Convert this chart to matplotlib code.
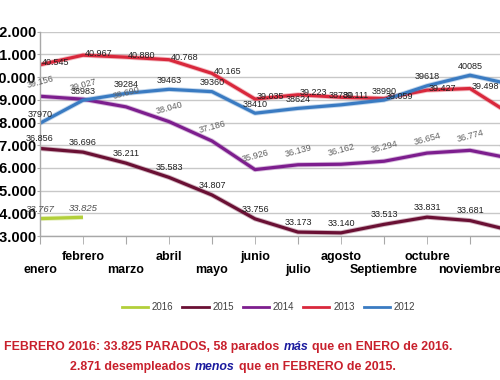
import matplotlib
matplotlib.use('Agg')
import matplotlib.pyplot as plt
import matplotlib.patheffects as pe
from matplotlib.lines import Line2D
from matplotlib.offsetbox import TextArea, HPacker, AnchoredOffsetbox

months = ['enero', 'febrero', 'marzo', 'abril', 'mayo', 'junio', 'julio',
          'agosto', 'Septiembre', 'octubre', 'noviembre']
years = ['2016', '2015', '2014', '2013', '2012']
v2016 = [33767, 33825]
v2015 = [36856, 36696, 36211, 35583, 34807, 33756, 33173, 33140, 33513, 33831, 33681, 33220]
v2014 = [39156, 39027, 38690, 38040, 37186, 35926, 36139, 36162, 36294, 36654, 36774, 36400]
v2013 = [40545, 40967, 40880, 40768, 40165, 39035, 39223, 39111, 39059, 39427, 39498, 38300]
v2012 = [37970, 38983, 39284, 39463, 39360, 38410, 38624, 38780, 38990, 39618, 40085, 39660]
y_ticks = list(range(33000, 43000, 1000))

line1 = ['FEBRERO 2016: 33.825 PARADOS, 58 parados', 'más', 'que en ENERO de 2016.']
line2 = ['2.871 desempleados', 'menos', 'que en FEBRERO de 2015.']

colors = {'2016': '#b2cf3a', '2015': '#6a1034', '2014': '#7d1e8e',
          '2013': '#d9283c', '2012': '#3a7bc2'}
series = {'2016': v2016, '2015': v2015, '2014': v2014, '2013': v2013, '2012': v2012}

def dotfmt(v):
    return f"{v:,}".replace(',', '.')

fig = plt.figure(figsize=(5, 3.8), dpi=100)
fig.patch.set_facecolor('white')
ax = fig.add_axes([0.08, 0.3789, 0.946, 0.5376])
ax.set_xlim(0, 11)
ax.set_ylim(33000, 42000)

for y in years:
    vals = series[y]
    xs = list(range(len(vals)))
    ax.plot(xs, vals, color=colors[y], lw=2.3, solid_capstyle='butt',
            solid_joinstyle='round',
            path_effects=[pe.Stroke(linewidth=3.6, foreground=colors[y], alpha=0.3),
                          pe.Normal()])

lblfont = ['Liberation Sans', 'DejaVu Sans']
narrow = ['Liberation Sans Narrow', 'Liberation Sans', 'DejaVu Sans']
for i, v in enumerate(v2016):
    ax.annotate(dotfmt(v), (i, v), xytext=(0, 6.5), textcoords='offset points',
                ha='center', va='center', fontsize=6.8, style='italic',
                color='#505050', family=lblfont)
for i, v in enumerate(v2015):
    ax.annotate(dotfmt(v), (i, v), xytext=(0, 7), textcoords='offset points',
                ha='center', va='center', fontsize=6.5, color='#202020', family=lblfont)
for i, v in enumerate(v2014):
    ax.annotate(dotfmt(v), (i, v), xytext=(0, 10), textcoords='offset points',
                ha='center', va='center', fontsize=6.5, color='#606060',
                rotation=15, family=lblfont)
for i, v in enumerate(v2013):
    ax.annotate(dotfmt(v), (i, v), xytext=(1, 1.5), textcoords='offset points',
                ha='left', va='center', fontsize=6.5, color='#202020', family=lblfont)
for i, v in enumerate(v2012):
    ax.annotate(str(v), (i, v), xytext=(0, 6.5), textcoords='offset points',
                ha='center', va='center', fontsize=6.5, color='#202020', family=narrow)

# axes styling
for s in ['top', 'right']:
    ax.spines[s].set_visible(False)
for s in ['left', 'bottom']:
    ax.spines[s].set_color('#a8a8a8')
    ax.spines[s].set_linewidth(1)
ax.yaxis.grid(True, color='#c8c8c8', lw=1)
ax.set_axisbelow(True)

ax.set_yticks(y_ticks)
ax.set_yticklabels([dotfmt(v) for v in y_ticks], fontsize=10.5, fontweight='bold',
                   family=lblfont, color='black')
ax.tick_params(axis='y', length=2, color='#a8a8a8', pad=0.5)

ax.set_xticks(list(range(0, 12, 2)))
ax.set_xticklabels(months[0::2], fontsize=9, fontweight='bold', family=lblfont)
ax.set_xticks(list(range(1, 12, 2)), minor=True)
ax.set_xticklabels(months[1::2] + [''], minor=True, fontsize=9, fontweight='bold',
                   family=lblfont)
ax.tick_params(axis='x', which='major', length=6, color='#a8a8a8', pad=14.5)
ax.tick_params(axis='x', which='minor', length=6, color='#a8a8a8', pad=4.5)

handles = [Line2D([0], [0], color=colors[y], lw=2) for y in years]
fig.legend(handles, years, loc='center', bbox_to_anchor=(0.537, 0.192), ncol=5,
           frameon=False, handlelength=2.7, handletextpad=0.4,
           columnspacing=0.9, labelcolor='#404040', prop={'family': lblfont, 'size': 7})

red = '#c8202c'
blue = '#1a1a9e'
def make_line(parts, xc, yc):
    areas = []
    for k, p in enumerate(parts):
        if k == 1:
            tp = dict(color=blue, fontweight='bold', style='italic', fontsize=8.9, family=lblfont)
        else:
            tp = dict(color=red, fontweight='bold', fontsize=8.9, family=lblfont)
        areas.append(TextArea(p, textprops=tp))
    box = HPacker(children=areas, align='baseline', pad=0, sep=3)
    anc = AnchoredOffsetbox(loc='center', child=box, pad=0, borderpad=0,
                            frameon=False, bbox_to_anchor=(xc, yc),
                            bbox_transform=fig.transFigure)
    fig.add_artist(anc)

make_line(line1, 0.457, 0.087)
make_line(line2, 0.466, 0.034)

fig.savefig('out.png', dpi=100, facecolor='white')
